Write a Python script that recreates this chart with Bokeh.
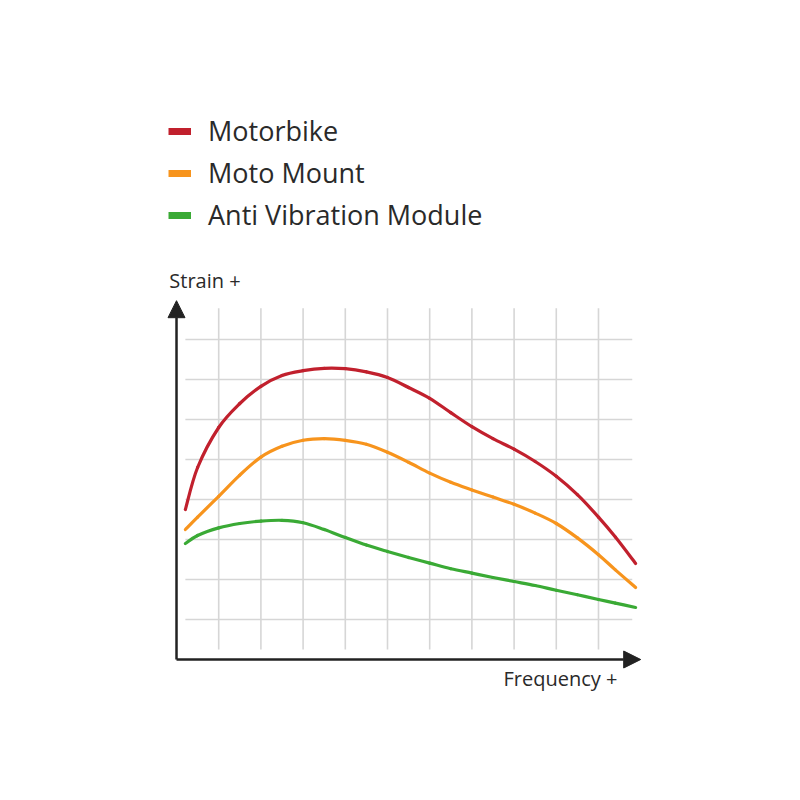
from bokeh.plotting import figure
from bokeh.models import Range1d, Arrow, NormalHead, Label, Legend, LegendItem
from bokeh.embed import file_html
from bokeh.resources import INLINE

# ---- data ----
freq = [0.21, 0.5, 1, 1.5, 2, 2.5, 3, 3.5, 4, 4.5, 5, 5.5, 6, 6.5, 7, 7.5, 8, 8.5, 9, 9.5, 10, 10.4, 10.88]
motorbike = [3.75, 4.80, 5.80, 6.40, 6.83, 7.10, 7.22, 7.28, 7.27, 7.19, 7.05, 6.80, 6.53, 6.17, 5.82, 5.52, 5.26, 4.95, 4.58, 4.12, 3.56, 3.06, 2.40]
moto_mount = [3.25, 3.56, 4.08, 4.61, 5.06, 5.33, 5.48, 5.52, 5.48, 5.38, 5.18, 4.93, 4.66, 4.43, 4.24, 4.06, 3.88, 3.66, 3.40, 3.04, 2.62, 2.24, 1.80]
anti_vib = [2.90, 3.10, 3.29, 3.40, 3.46, 3.48, 3.42, 3.25, 3.05, 2.86, 2.70, 2.55, 2.41, 2.27, 2.16, 2.05, 1.95, 1.85, 1.73, 1.62, 1.50, 1.41, 1.30]

series_names = ["Motorbike", "Moto Mount", "Anti Vibration Module"]
series_colors = ["#C1202D", "#F7941D", "#3AAA35"]

grid_x = [1, 2, 3, 4, 5, 6, 7, 8, 9, 10]
grid_y = [1, 2, 3, 4, 5, 6, 7, 8]
grid_x_extent = (0.21, 10.8)
grid_y_extent = (0.25, 8.78)

x_label = "Frequency +"
y_label = "Strain +"

FONT = "Open Sans"
TXT = "#2a2a2a"


def smooth_segments(xs, ys):
    """Catmull-Rom -> cubic Bezier control points through the read points."""
    n = len(xs)
    out = dict(x0=[], y0=[], x1=[], y1=[], cx0=[], cy0=[], cx1=[], cy1=[])
    for i in range(n - 1):
        xa, ya = (xs[i - 1], ys[i - 1]) if i > 0 else (xs[i], ys[i])
        xb, yb = xs[i], ys[i]
        xc, yc = xs[i + 1], ys[i + 1]
        xd, yd = (xs[i + 2], ys[i + 2]) if i + 2 < n else (xc, yc)
        out["x0"].append(xb); out["y0"].append(yb)
        out["x1"].append(xc); out["y1"].append(yc)
        out["cx0"].append(xb + (xc - xa) / 6.0); out["cy0"].append(yb + (yc - ya) / 6.0)
        out["cx1"].append(xc - (xd - xb) / 6.0); out["cy1"].append(yc - (yd - yb) / 6.0)
    return out


p = figure(width=784, height=784, output_backend="svg", toolbar_location=None,
           x_axis_type=None, y_axis_type=None,
           x_range=Range1d(-4.171, 14.408), y_range=Range1d(-3.125, 16.475),
           min_border=0, outline_line_color=None)
p.xgrid.visible = False
p.ygrid.visible = False

# grid
p.segment(x0=grid_x, x1=grid_x, y0=[grid_y_extent[0]] * len(grid_x), y1=[grid_y_extent[1]] * len(grid_x),
          line_color="#d6d6d6", line_width=1.6)
p.segment(x0=[grid_x_extent[0]] * len(grid_y), x1=[grid_x_extent[1]] * len(grid_y), y0=grid_y, y1=grid_y,
          line_color="#d6d6d6", line_width=1.6)

# curves
for ys, c in zip([motorbike, moto_mount, anti_vib], series_colors):
    p.bezier(source=smooth_segments(freq, ys), x0="x0", y0="y0", x1="x1", y1="y1",
             cx0="cx0", cy0="cy0", cx1="cx1", cy1="cy1",
             line_color=c, line_width=3.2, line_cap="round")

# axes with arrows
p.add_layout(Arrow(end=NormalHead(size=17, fill_color="#222222", line_color="#222222", line_width=1),
                   x_start=0, y_start=0, x_end=0, y_end=8.97, line_color="#222222", line_width=2.5))
p.add_layout(Arrow(end=NormalHead(size=17, fill_color="#222222", line_color="#222222", line_width=1),
                   x_start=0, y_start=0, x_end=11.0, y_end=0, line_color="#222222", line_width=2.5))

p.add_layout(Label(x=-0.17, y=9.48, text=y_label, text_font=FONT, text_font_size="20px",
                   text_color=TXT, text_baseline="alphabetic", text_align="left"))
p.add_layout(Label(x=10.45, y=-0.47, text=x_label, text_font=FONT, text_font_size="20px",
                   text_color=TXT, text_baseline="alphabetic", text_align="right"))

# legend (thick swatches)
items = []
for name, c in zip(series_names, series_colors):
    r = p.line(x=[float("nan")], y=[float("nan")], line_color=c, line_width=7, line_cap="butt")
    items.append(LegendItem(label=name, renderers=[r]))
legend = Legend(items=items, location=(168, 551), orientation="vertical",
                glyph_width=23, glyph_height=34, label_height=34, label_standoff=17, spacing=5,
                padding=0, margin=0, border_line_color=None, background_fill_alpha=0,
                label_text_font=FONT, label_text_font_size="27px", label_text_color=TXT)
p.add_layout(legend, "center")

open("out.html", "w").write(file_html(p, INLINE))
